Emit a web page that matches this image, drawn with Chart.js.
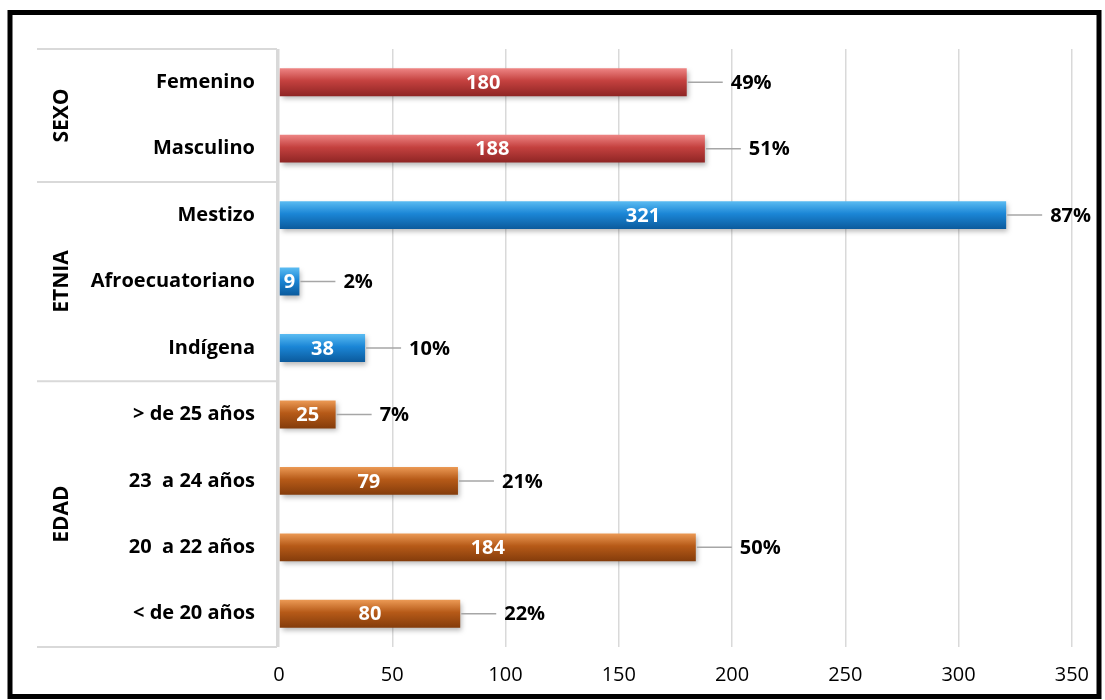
<!DOCTYPE html>
<html>
<head>
<meta charset="utf-8">
<script src="https://cdn.jsdelivr.net/npm/chart.js@4/dist/chart.umd.min.js"></script>
<style>
  body { margin: 0; background: #fff; }
  #wrap { width: 1105px; height: 700px; position: relative; }
</style>
</head>
<body>
<div id="wrap"><canvas id="chart-area" width="1105" height="700"></canvas></div>
<script>
var labels = ['Femenino', 'Masculino', 'Mestizo', 'Afroecuatoriano', 'Indígena',
  '> de 25 años', '23  a 24 años', '20  a 22 años', '< de 20 años'];
var values = [180, 188, 321, 9, 38, 25, 79, 184, 80];
var percents = ['49%', '51%', '87%', '2%', '10%', '7%', '21%', '50%', '22%'];
var groups = ['SEXO', 'ETNIA', 'EDAD'];
var groupSizes = [2, 3, 4];
var xTicks = [0, 50, 100, 150, 200, 250, 300, 350];

var FONT = '"Open Sans", sans-serif';

// colour set per group: [top, middle, bottom]
var palette = [
  ['#ee8584', '#c4413f', '#8e2524'],
  ['#5bbcf2', '#1b86d6', '#0b5a9c'],
  ['#ec9a55', '#b65a18', '#843c0b']
];

function groupOf(i){
  var n = 0;
  for (var g = 0; g < groupSizes.length; g++){
    n += groupSizes[g];
    if (i < n) return g;
  }
  return groupSizes.length - 1;
}

function barFill(context){
  var chart = context.chart;
  var y = chart.scales.y;
  var i = context.dataIndex;
  if (i === undefined) return palette[0][1];
  var c = palette[groupOf(i)];
  var cy = y ? y.getPixelForValue(i) : NaN;
  if (!isFinite(cy)) return c[1];
  var g = chart.ctx.createLinearGradient(0, cy - 14, 0, cy + 14);
  g.addColorStop(0, c[0]);
  g.addColorStop(0.45, c[1]);
  g.addColorStop(1, c[2]);
  return g;
}

var extras = {
  id: 'extras',
  beforeDatasetsDraw: function(chart){
    var ctx = chart.ctx;
    ctx.save();
    ctx.shadowColor = 'rgba(0,0,0,0.28)';
    ctx.shadowBlur = 5;
    ctx.shadowOffsetX = 2;
    ctx.shadowOffsetY = 3;
  },
  afterDatasetsDraw: function(chart){
    var ctx = chart.ctx;
    ctx.restore();
    var area = chart.chartArea;
    var step = (area.bottom - area.top) / labels.length;

    // group separators and vertical border of the label area
    ctx.save();
    ctx.strokeStyle = '#d9d9d9';
    ctx.lineWidth = 2;
    ctx.beginPath();
    ctx.moveTo(area.left - 2, area.top);
    ctx.lineTo(area.left - 2, area.bottom);
    var idx = 0;
    var bounds = [area.top];
    for (var g = 0; g < groupSizes.length; g++){
      idx += groupSizes[g];
      bounds.push(area.top + idx * step);
    }
    bounds.forEach(function(b){
      ctx.moveTo(37, b);
      ctx.lineTo(area.left - 2, b);
    });
    ctx.stroke();

    // group titles
    ctx.fillStyle = '#000';
    ctx.font = 'bold 21px ' + FONT;
    ctx.textAlign = 'center';
    ctx.textBaseline = 'middle';
    for (var g = 0; g < groups.length; g++){
      ctx.save();
      ctx.translate(62, (bounds[g] + bounds[g + 1]) / 2);
      ctx.rotate(-Math.PI / 2);
      ctx.fillText(groups[g], 0, 0);
      ctx.restore();
    }

    // value and percentage labels
    var meta = chart.getDatasetMeta(0);
    meta.data.forEach(function(bar, i){
      var mid = (bar.x + bar.base) / 2;
      ctx.font = 'bold 20px ' + FONT;
      ctx.fillStyle = '#fff';
      ctx.textAlign = 'center';
      ctx.fillText(String(values[i]), mid, bar.y + 1);

      ctx.strokeStyle = '#a6a6a6';
      ctx.lineWidth = 1.5;
      ctx.beginPath();
      ctx.moveTo(bar.x + 1, bar.y);
      ctx.lineTo(bar.x + 36, bar.y);
      ctx.stroke();

      ctx.fillStyle = '#000';
      ctx.textAlign = 'left';
      ctx.fillText(percents[i], bar.x + 44, bar.y + 1);
    });

    // outer frame
    ctx.strokeStyle = '#000';
    ctx.lineWidth = 5;
    ctx.strokeRect(10, 12.5, 1089, 684);
    ctx.restore();
  }
};

var config = {
  type: 'bar',
  data: {
    labels: labels,
    datasets: [{
      data: values,
      backgroundColor: barFill,
      borderWidth: 0,
      barPercentage: 0.42,
      categoryPercentage: 1
    }]
  },
  options: {
    indexAxis: 'y',
    responsive: false,
    animation: false,
    layout: { padding: { top: 49, right: 33, bottom: 0, left: 0 } },
    plugins: { legend: { display: false }, tooltip: { enabled: false } },
    scales: {
      x: {
        min: 0,
        max: 350,
        afterBuildTicks: function(scale){
          scale.ticks = xTicks.map(function(v){ return { value: v }; });
        },
        afterFit: function(scale){ scale.height = 53; },
        grid: { color: '#d9d9d9', lineWidth: 1.5, drawTicks: false },
        border: { display: false },
        ticks: { color: '#000', font: { family: FONT, size: 20 }, padding: 16, maxRotation: 0 }
      },
      y: {
        afterFit: function(scale){ scale.width = 279; },
        grid: { display: false, drawTicks: false },
        border: { display: false },
        ticks: { color: '#000', font: { family: FONT, size: 20, weight: 'bold' }, padding: 24 }
      }
    }
  },
  plugins: [extras]
};

var ctx = document.getElementById('chart-area').getContext('2d');
var chart = new Chart(ctx, config);
</script>
</body>
</html>
